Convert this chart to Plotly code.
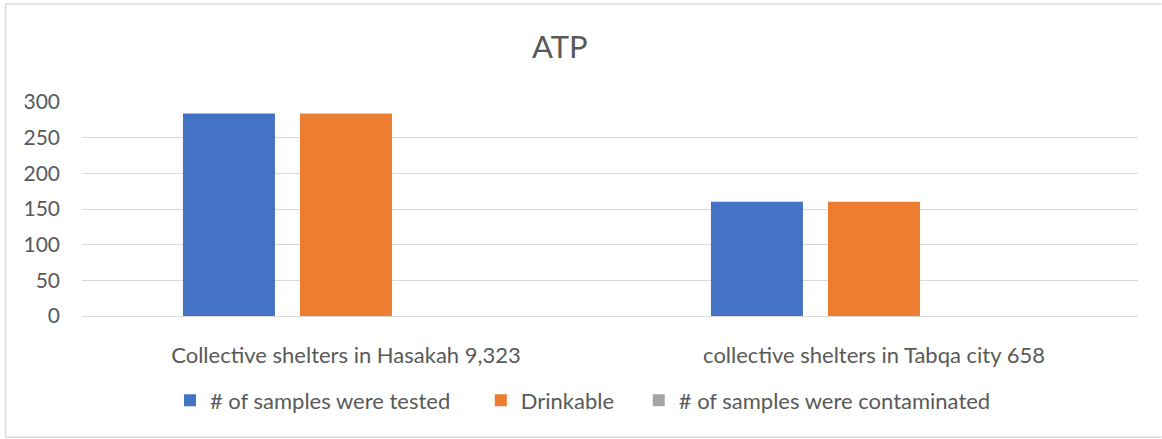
import plotly.graph_objects as go

categories = ["Collective shelters in Hasakah 9,323", "collective shelters in Tabqa city 658"]
series_names = ["# of samples were tested", "Drinkable", "# of samples were contaminated"]
tested = [284, 160]
drinkable = [284, 160]
contaminated = [0, 0]
colors = ["#4472C4", "#ED7D31", "#A5A5A5"]
y_ticks = [0, 50, 100, 150, 200, 250, 300]

FONT = "Lato"
GREY = "#595959"
BORDER = "#d9d9d9"

W, H = 1162, 439
# screen positions of the plot area
SL, SR, ST, SB = 82, 1138.5, 101.7, 316.3
L, T, R, B = SL, ST, W - SR, H - SB
pw, ph = W - L - R, H - T - B

def px(x):
    return (x - L) / pw

def py(y):
    return (H - B - y) / ph

legend_ids = ["legend", "legend2", "legend3"]
legend_left = [170, 481, 639]

fig = go.Figure()
for name, vals, col, lid in zip(series_names, [tested, drinkable, contaminated], colors, legend_ids):
    fig.add_trace(go.Bar(x=categories, y=vals, name=name, legend=lid,
                         marker=dict(color=col, line=dict(width=0))))

legend_layout = {}
for lid, lx in zip(legend_ids, legend_left):
    legend_layout[lid] = dict(orientation="h", x=px(lx), xanchor="left", y=py(401), yanchor="middle",
                              font=dict(size=22, color=GREY, family=FONT), bgcolor="rgba(0,0,0,0)")

# chart frame (top, left, bottom edges; right edge lies outside the picture)
frame = [
    (5.5, 3.5, 1162, 3.5),
    (5.5, 3.5, 5.5, 438),
    (5.5, 438, 1162, 438),
]
shapes = [dict(type="line", xref="paper", yref="paper",
               x0=px(a), y0=py(b), x1=px(c), y1=py(d),
               line=dict(color=BORDER, width=1.5), layer="below") for a, b, c, d in frame]

fig.update_layout(
    width=W, height=H,
    margin=dict(l=L, r=R, t=T, b=B, autoexpand=False),
    paper_bgcolor="white", plot_bgcolor="white",
    barmode="group", bargap=0.335, bargroupgap=0.214,
    font=dict(family=FONT, color=GREY, size=18),
    title=dict(text="ATP", x=px(560), xref="paper", xanchor="center",
               y=1 - 47 / H, yanchor="middle", font=dict(family=FONT, size=31, color=GREY)),
    xaxis=dict(showline=True, linecolor=BORDER, linewidth=1, ticks="",
               tickfont=dict(size=22, color=GREY), showgrid=False, ticklabelstandoff=20),
    yaxis=dict(range=[0, 300], tickvals=y_ticks, showgrid=True, gridcolor=BORDER,
               gridwidth=1, zeroline=False, showline=False, ticks="",
               tickfont=dict(size=21, color=GREY), ticklabelstandoff=21),
    showlegend=True,
    shapes=shapes,
    **legend_layout,
)

fig.write_html("out.html", config={"displayModeBar": False},
               post_script="document.body.style.margin='0';document.body.style.overflow='hidden';")
